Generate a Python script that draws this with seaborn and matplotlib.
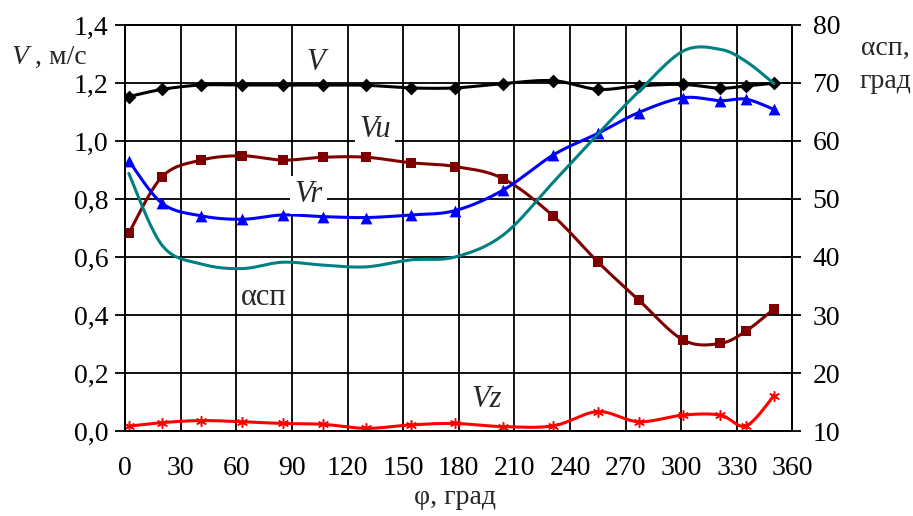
import numpy as np
import matplotlib
matplotlib.use('Agg')
import matplotlib.pyplot as plt
import matplotlib.ticker as mticker
import seaborn as sns

# ── data ────────────────────────────────────────────────────────────────────
phi = [2, 20, 41, 63, 85, 107, 130, 154, 178, 204, 231, 255, 277, 301, 321, 335, 350]
v_total = [1.153, 1.178, 1.193, 1.193, 1.193, 1.193, 1.192, 1.183, 1.183, 1.198, 1.208,
           1.178, 1.190, 1.195, 1.182, 1.190, 1.199]
v_u = [0.682, 0.877, 0.934, 0.949, 0.934, 0.944, 0.944, 0.925, 0.912, 0.870, 0.741,
       0.583, 0.452, 0.314, 0.302, 0.345, 0.421]
v_r = [0.932, 0.785, 0.742, 0.730, 0.745, 0.739, 0.736, 0.745, 0.760, 0.831, 0.952,
       1.026, 1.098, 1.149, 1.139, 1.144, 1.109]
v_z = [0.017, 0.029, 0.036, 0.032, 0.026, 0.023, 0.009, 0.021, 0.026, 0.015, 0.018,
       0.067, 0.032, 0.055, 0.055, 0.018, 0.122]
alpha = [54.4, 42.0, 38.8, 38.0, 39.1, 38.6, 38.3, 39.5, 40.0, 43.8, 52.9,
         61.2, 68.5, 75.5, 75.8, 73.7, 69.9]

x_ticks = list(range(0, 361, 30))
y_ticks = [0.0, 0.2, 0.4, 0.6, 0.8, 1.0, 1.2, 1.4]
y2_ticks = [10, 20, 30, 40, 50, 60, 70, 80]


def smooth(xs, ys, n=20):
    """Excel-like smoothed line (Catmull-Rom through the points)."""
    p = np.column_stack([xs, ys]).astype(float)
    p = np.vstack([p[0], p, p[-1]])
    out = []
    t = np.linspace(0, 1, n, endpoint=False)[:, None]
    for i in range(1, len(p) - 2):
        p0, p1, p2, p3 = p[i - 1], p[i], p[i + 1], p[i + 2]
        seg = 0.5 * ((2 * p1) + (-p0 + p2) * t + (2 * p0 - 5 * p1 + 4 * p2 - p3) * t ** 2
                     + (-p0 + 3 * p1 - 3 * p2 + p3) * t ** 3)
        out.append(seg)
    out.append(p[-2][None, :])
    out = np.vstack(out)
    return out[:, 0], out[:, 1]


sns.set_style('white')
plt.rcParams['font.family'] = ['Liberation Serif', 'DejaVu Serif']
FS = 20      # tick labels / axis titles
FL = 22      # series labels

fig = plt.figure(figsize=(9.13, 5.16), dpi=100)
ax = fig.add_axes([0.137, 0.1647, 0.731, 0.7869])
ax2 = ax.twinx()

ax.set_xlim(0, 360)
ax.set_ylim(0, 1.4)
ax2.set_ylim(10, 80)

ax.set_xticks(x_ticks)
ax.set_yticks(y_ticks)
ax2.set_yticks(y2_ticks)
ax.yaxis.set_major_formatter(mticker.FuncFormatter(lambda v, p: f'{v:.1f}'.replace('.', ',')))

ax.grid(True, color='black', linewidth=1.3)
ax.set_axisbelow(True)
for a in (ax, ax2):
    for s in a.spines.values():
        s.set_color('black')
        s.set_linewidth(1.4)
ax.tick_params(axis='x', direction='out', length=7, width=1.3, labelsize=FS, pad=11,
               colors='black')
ax.tick_params(axis='y', direction='out', length=7, width=1.3, labelsize=FS, pad=5,
               colors='black')
ax2.tick_params(axis='y', direction='inout', length=13, width=1.3, labelsize=FS, pad=8,
                colors='black')

LW = 2.2
series = [
    (v_total, 'black', 'D', 7),
    (v_u, '#800000', 's', 7),
    (v_r, '#0000FF', '^', 8.5),
    (v_z, '#FF0000', (6, 2, 0), 7),
]
for vals, col, mk, ms in series:
    sx, sy = smooth(phi, vals)
    sns.lineplot(x=sx, y=sy, ax=ax, color=col, linewidth=LW, sort=False, estimator=None)
    sns.scatterplot(x=phi, y=vals, ax=ax, color=col, marker=mk, s=ms ** 2,
                    edgecolor=col, linewidth=1.1 if mk == (6, 2, 0) else 0, zorder=5)

ax_s, al_s = smooth(phi, alpha)
sns.lineplot(x=ax_s, y=al_s, ax=ax2, color='#008080', linewidth=LW, sort=False, estimator=None)
ax2.set_ylabel('')

# series labels
ax.text(103, 1.272, 'V', fontsize=FL, style='italic', ha='center', va='center')
ax.text(135, 1.038, 'Vu', fontsize=FL, style='italic', ha='center', va='center',
        bbox=dict(facecolor='white', edgecolor='none', pad=3))
ax.text(99, 0.814, 'Vr', fontsize=FL, style='italic', ha='center', va='center',
        bbox=dict(facecolor='white', edgecolor='none', pad=3))
ax.text(75, 0.462, 'αсп', fontsize=FL, ha='center', va='center')
ax.text(195, 0.107, 'Vz', fontsize=FL, style='italic', ha='center', va='center')

# axis titles
fig.text(12 / 913, 1 - 57 / 516, 'V', fontsize=FS, style='italic', ha='left', va='center')
fig.text(35 / 913, 1 - 57 / 516, ', м/с', fontsize=FS, ha='left', va='center')
fig.text(885 / 913, 1 - 48 / 516, 'αсп,', fontsize=FS, ha='center', va='center')
fig.text(885 / 913, 1 - 81 / 516, 'град', fontsize=FS, ha='center', va='center')
fig.text(455 / 913, 1 - 497 / 516, 'φ, град', fontsize=FS, ha='center', va='center')

fig.savefig('out.png', dpi=100)
